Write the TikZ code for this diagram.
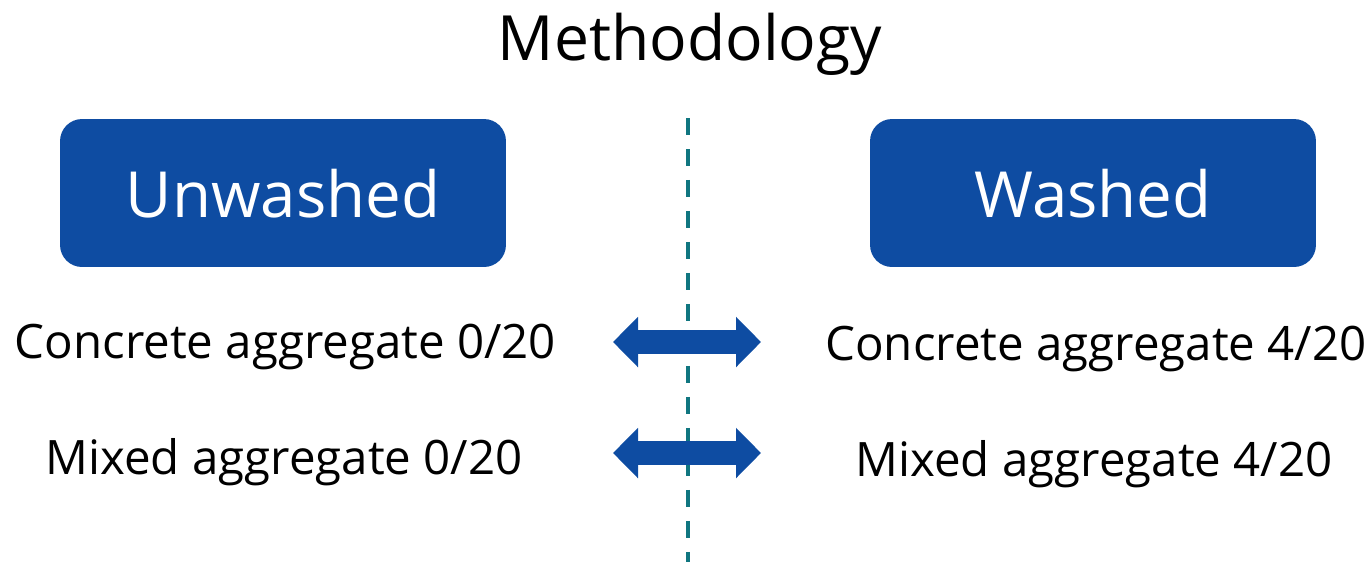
\documentclass[tikz,border=0pt]{standalone}
\usepackage{fontspec}
\setmainfont{Open Sans}
\usetikzlibrary{arrows.meta}
\definecolor{boxblue}{RGB}{14,76,162}
\definecolor{divteal}{RGB}{16,118,128}
\begin{document}
\begin{tikzpicture}[x=0.02cm, y=-0.02cm,
  titletext/.style={anchor=base, inner sep=0pt, font=\fontsize{35.5}{38}\selectfont},
  groupbox/.style={fill=boxblue, rounded corners=0.44cm, minimum width=8.92cm,
    minimum height=2.96cm, inner sep=0pt},
  grouplabel/.style={anchor=base, inner sep=0pt, text=white, font=\fontsize{36.2}{39}\selectfont},
  itemtext/.style={anchor=base, inner sep=0pt, font=\fontsize{27}{29}\selectfont},
  pairarrow/.style={boxblue, line width=0.48cm,
    {Triangle[length=0.5cm, width=0.98cm]}-{Triangle[length=0.5cm, width=0.98cm]}},
  divider/.style={divteal, line width=0.09cm, dash pattern=on 0.34cm off 0.28cm}
]
\useasboundingbox (0,0) rectangle (1370,562);

% heading
\node[titletext] (title) at (690,60) {Methodology};

% the two groups
\node[groupbox] (unw) at (283,193) {};
\node[grouplabel] (unwlabel) at (283,217) {Unwashed};
\node[groupbox] (was) at (1093,193) {};
\node[grouplabel] (waslabel) at (1093,217) {Washed};

% materials of each group
\node[itemtext] (cu) at (285.5,358) {Concrete aggregate 0/20};
\node[itemtext] (mu) at (284,474) {Mixed aggregate 0/20};
\node[itemtext] (cw) at (1096,360) {Concrete aggregate 4/20};
\node[itemtext] (mw) at (1094,476) {Mixed aggregate 4/20};

% dividing line, drawn below the arrows
\coordinate (dtop) at (688,118);
\coordinate (dbot) at (688,562);
\draw[divider] (dtop) -- (dbot);

% arrow ends
\coordinate (c1l) at (613,342);
\coordinate (c1r) at (761,342);
\coordinate (c2l) at (613,453);
\coordinate (c2r) at (761,453);
\draw[pairarrow] (c1l) -- (c1r);
\draw[pairarrow] (c2l) -- (c2r);
\end{tikzpicture}
\end{document}
